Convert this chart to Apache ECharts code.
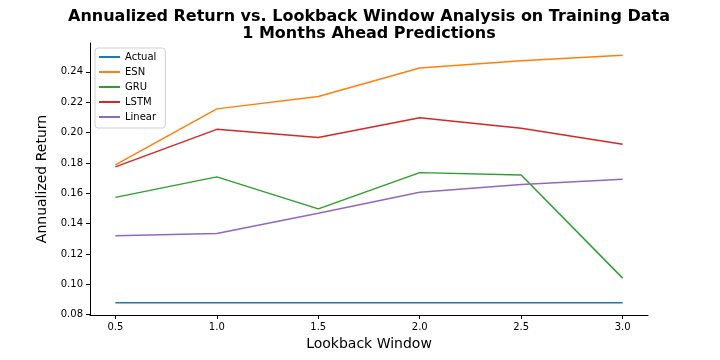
<!DOCTYPE html>
<html>
<head>
<meta charset="utf-8">
<script src="https://cdn.jsdelivr.net/npm/echarts@6/dist/echarts.min.js"></script>
<style>
  html, body { margin: 0; padding: 0; background: #fff; }
  #chart { width: 720px; height: 360px; }
</style>
</head>
<body>
<div id="chart"></div>
<script>
// lookback windows (x) and annualized returns per model
var lookback = [0.5, 1.0, 1.5, 2.0, 2.5, 3.0];
var actual = [0.0878, 0.0878, 0.0878, 0.0878, 0.0878, 0.0878];
var esn    = [0.1787, 0.2156, 0.2237, 0.2425, 0.2473, 0.2509];
var gru    = [0.1573, 0.1708, 0.1497, 0.1736, 0.1721, 0.1041];
var lstm   = [0.1774, 0.2021, 0.1967, 0.2098, 0.2028, 0.1923];
var linear = [0.1320, 0.1335, 0.1469, 0.1607, 0.1657, 0.1693];

var xTicks = [0.5, 1.0, 1.5, 2.0, 2.5, 3.0];
var yTicks = [0.08, 0.10, 0.12, 0.14, 0.16, 0.18, 0.20, 0.22, 0.24];

var names  = ['Actual', 'ESN', 'GRU', 'LSTM', 'Linear'];
var values = [actual, esn, gru, lstm, linear];
var colors = ['#1f77b4', '#ff7f0e', '#2ca02c', '#d62728', '#9467bd'];

function pairs(ys) {
    return lookback.map(function (x, i) { return [x, ys[i]]; });
}

var series = names.map(function (n, i) {
    return {
        name: n,
        type: 'line',
        data: pairs(values[i]),
        symbol: 'none',
        color: colors[i],
        lineStyle: { width: 1.5, color: colors[i] },
        z: i + 2
    };
});

var font = 'DejaVu Sans';

var option = {
    animation: false,
    backgroundColor: '#fff',
    title: {
        text: 'Annualized Return vs. Lookback Window Analysis on Training Data\n1 Months Ahead Predictions',
        left: 364,
        textAlign: 'center',
        top: 3,
        textStyle: {
            fontFamily: font, fontWeight: 'bold', fontSize: 16,
            color: '#000', lineHeight: 17
        }
    },
    legend: {
        orient: 'vertical',
        left: 95,
        top: 48,
        data: names,
        icon: 'rect',
        itemWidth: 21,
        itemHeight: 2,
        itemGap: 3,
        padding: [3, 9, 5, 4],
        backgroundColor: 'rgba(255,255,255,0.8)',
        borderColor: '#d0d0d0',
        borderWidth: 1,
        borderRadius: 3,
        textStyle: { fontFamily: font, fontSize: 10, color: '#000', lineHeight: 12 }
    },
    grid: { left: 90, right: 72, top: 43, bottom: 45, containLabel: false },
    xAxis: {
        type: 'value',
        min: 0.375,
        max: 3.125,
        name: 'Lookback Window',
        nameLocation: 'middle',
        nameGap: 21,
        nameTextStyle: { fontFamily: font, fontSize: 14, color: '#000' },
        axisLine: { lineStyle: { color: '#000', width: 1 } },
        axisTick: { show: true, length: 4, customValues: xTicks, lineStyle: { color: '#000' } },
        axisLabel: {
            customValues: xTicks,
            fontFamily: font, fontSize: 10, color: '#000', margin: 7,
            formatter: function (v) { return v.toFixed(1); }
        },
        splitLine: { show: false }
    },
    yAxis: {
        type: 'value',
        min: 0.0798,
        max: 0.259,
        name: 'Annualized Return',
        nameLocation: 'middle',
        nameGap: 37,
        nameTextStyle: { fontFamily: font, fontSize: 14, color: '#000' },
        axisLine: { show: true, lineStyle: { color: '#000', width: 1 } },
        axisTick: { show: true, length: 4, customValues: yTicks, lineStyle: { color: '#000' } },
        axisLabel: {
            customValues: yTicks,
            fontFamily: font, fontSize: 10, color: '#000', margin: 7,
            formatter: function (v) { return v.toFixed(2); }
        },
        splitLine: { show: false }
    },
    series: series
};

var myChart = echarts.init(document.getElementById('chart'));
myChart.setOption(option);
</script>
</body>
</html>
